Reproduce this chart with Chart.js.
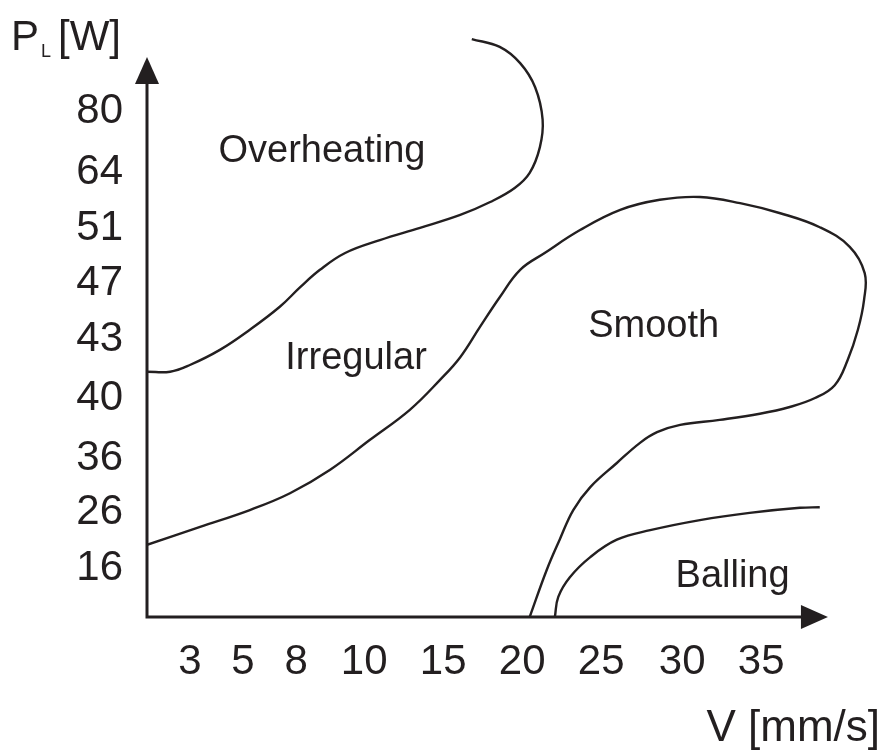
<!DOCTYPE html>
<html>
<head>
<meta charset="utf-8">
<title>Process map</title>
<script src="https://cdn.jsdelivr.net/npm/chart.js@4/dist/chart.umd.min.js"></script>
<style>
  html, body { margin:0; padding:0; background:#ffffff; }
  #wrap { width:886px; height:751px; position:relative; }
</style>
</head>
<body>
<div id="wrap"><canvas id="mapChart"></canvas></div>
<script>

/* ===========================
   DATA (axis positions, tick labels, boundaries)
=========================== */

const INK = "#231f20";

const xTickPos    = [0.63, 1.41, 2.19, 3.19, 4.35, 5.51, 6.67, 7.86, 9.02];
const xTickLabels = ["3", "5", "8", "10", "15", "20", "25", "30", "35"];

const yTickPos    = [0.875, 1.86, 2.84, 3.91, 4.96, 5.95, 6.93, 7.93, 9.02];
const yTickLabels = ["16", "26", "36", "40", "43", "47", "51", "64", "80"];

// Overheating / Irregular border
const overheatX = [0, 0.34, 0.63, 1.07, 1.51, 1.95, 2.25, 2.54, 2.91, 3.42, 4.01, 4.60, 5.04, 5.40, 5.62, 5.77, 5.81, 5.70, 5.48, 5.18, 4.77];
const overheatY = [4.38, 4.38, 4.50, 4.77, 5.13, 5.54, 5.89, 6.20, 6.50, 6.73, 6.95, 7.18, 7.41, 7.66, 7.93, 8.39, 8.88, 9.46, 9.89, 10.18, 10.32];

// Irregular / Smooth border (closes down to the V axis)
const smoothX = [0, 0.78, 1.51, 2.10, 2.69, 3.27, 3.86, 4.30, 4.60, 4.89, 5.18, 5.48, 5.84, 6.36, 6.95, 7.53, 8.12, 8.71, 9.30, 9.88, 10.32, 10.54, 10.53, 10.44, 10.29, 10.10, 9.81, 9.44, 9.00, 8.41, 7.83, 7.49, 7.24, 6.90, 6.51, 6.26, 6.06, 5.87, 5.62];
const smoothY = [1.29, 1.61, 1.91, 2.21, 2.63, 3.16, 3.70, 4.23, 4.64, 5.18, 5.71, 6.20, 6.50, 6.91, 7.27, 7.45, 7.50, 7.39, 7.21, 6.96, 6.61, 6.14, 5.66, 5.13, 4.59, 4.14, 3.91, 3.75, 3.63, 3.52, 3.43, 3.30, 3.11, 2.75, 2.32, 1.91, 1.38, 0.84, 0];

// Balling border
const ballingX = [5.99, 6.04, 6.21, 6.51, 6.90, 7.39, 8.12, 8.85, 9.59, 9.88];
const ballingY = [0, 0.36, 0.71, 1.07, 1.38, 1.55, 1.73, 1.86, 1.95, 1.96];

const regionNames = ["Overheating", "Irregular", "Smooth", "Balling"];
const regionX     = [2.57, 3.07, 7.44, 8.60];
const regionY     = [8.34, 4.66, 5.23, 0.75];

/* ===========================
   HELPERS
=========================== */

function toPoints(xs, ys){

    return xs.map((x, i) => ({ x, y: ys[i] }));

}

function boundary(xs, ys){

    return {
        data: toPoints(xs, ys),
        showLine: true,
        borderColor: INK,
        borderWidth: 2.4,
        tension: 0.4,
        pointRadius: 0,
        fill: false
    };

}

/* ===========================
   AXES WITH ARROWS + TEXT
=========================== */

const drawingPlugin = {

    id: "drawing",

    afterDatasetsDraw(chart){

        const ctx = chart.ctx;
        const xs = chart.scales.x;
        const ys = chart.scales.y;

        const x0 = xs.getPixelForValue(0);
        const y0 = ys.getPixelForValue(0);
        const xEnd = xs.getPixelForValue(10);
        const yEnd = ys.getPixelForValue(10);

        ctx.save();
        ctx.strokeStyle = INK;
        ctx.fillStyle = INK;
        ctx.lineWidth = 3;

        // axis lines
        ctx.beginPath();
        ctx.moveTo(x0, y0 + 1.5);
        ctx.lineTo(x0, yEnd + 20);
        ctx.moveTo(x0 - 1.5, y0);
        ctx.lineTo(xEnd - 20, y0);
        ctx.stroke();

        // arrow heads
        ctx.beginPath();
        ctx.moveTo(x0, yEnd);
        ctx.lineTo(x0 - 12, yEnd + 27);
        ctx.lineTo(x0 + 12, yEnd + 27);
        ctx.closePath();
        ctx.fill();

        ctx.beginPath();
        ctx.moveTo(xEnd, y0);
        ctx.lineTo(xEnd - 27, y0 - 12);
        ctx.lineTo(xEnd - 27, y0 + 12);
        ctx.closePath();
        ctx.fill();

        // region labels
        ctx.font = "38px 'Liberation Sans', Arial, sans-serif";
        ctx.textAlign = "center";
        ctx.textBaseline = "middle";
        regionNames.forEach((name, i) => {
            ctx.fillText(
                name,
                xs.getPixelForValue(regionX[i]),
                ys.getPixelForValue(regionY[i]) + 2
            );
        });

        // axis titles
        ctx.textBaseline = "alphabetic";
        ctx.textAlign = "left";
        ctx.font = "42px 'Liberation Sans', Arial, sans-serif";
        ctx.fillText("P", 11, 50);
        ctx.font = "18px 'Liberation Sans', Arial, sans-serif";
        ctx.fillText("L", 41, 57);
        ctx.font = "42px 'Liberation Sans', Arial, sans-serif";
        ctx.fillText("[W]", 58, 50);

        ctx.font = "44px 'Liberation Sans', Arial, sans-serif";
        ctx.textAlign = "right";
        ctx.fillText("V [mm/s]", 880, 741);

        ctx.restore();

    }

};

/* ===========================
   CHART
=========================== */

const tickFont = {
    family: "'Liberation Sans', Arial, sans-serif",
    size: 42
};

new Chart(

    document.getElementById("mapChart"),

    {

        type: "scatter",

        data: {
            datasets: [
                boundary(overheatX, overheatY),
                boundary(smoothX, smoothY),
                boundary(ballingX, ballingY)
            ]
        },

        options: {

            responsive: true,
            maintainAspectRatio: false,
            animation: false,

            layout: {
                padding: { top: 23, right: 7, left: 0, bottom: 0 }
            },

            plugins: {
                legend: { display: false },
                tooltip: { enabled: false }
            },

            scales: {

                x: {
                    type: "linear",
                    min: 0,
                    max: 10.75,
                    grid: { display: false, drawTicks: false },
                    border: { display: false },
                    afterBuildTicks(scale){
                        scale.ticks = xTickPos.map(v => ({ value: v }));
                    },
                    afterFit(scale){
                        scale.height = 134;
                        scale.paddingLeft = 0;
                        scale.paddingRight = 0;
                    },
                    ticks: {
                        autoSkip: false,
                        maxRotation: 0,
                        color: INK,
                        font: tickFont,
                        padding: 20,
                        callback: (v, i) => xTickLabels[i]
                    }
                },

                y: {
                    type: "linear",
                    min: 0,
                    max: 10.607,
                    grid: { display: false, drawTicks: false },
                    border: { display: false },
                    afterBuildTicks(scale){
                        scale.ticks = yTickPos.map(v => ({ value: v }));
                    },
                    afterFit(scale){
                        scale.width = 147;
                        scale.paddingTop = 0;
                        scale.paddingBottom = 0;
                    },
                    ticks: {
                        autoSkip: false,
                        color: INK,
                        font: tickFont,
                        padding: 24,
                        callback: (v, i) => yTickLabels[i]
                    }
                }

            }

        },

        plugins: [drawingPlugin]

    }

);

</script>
</body>
</html>
